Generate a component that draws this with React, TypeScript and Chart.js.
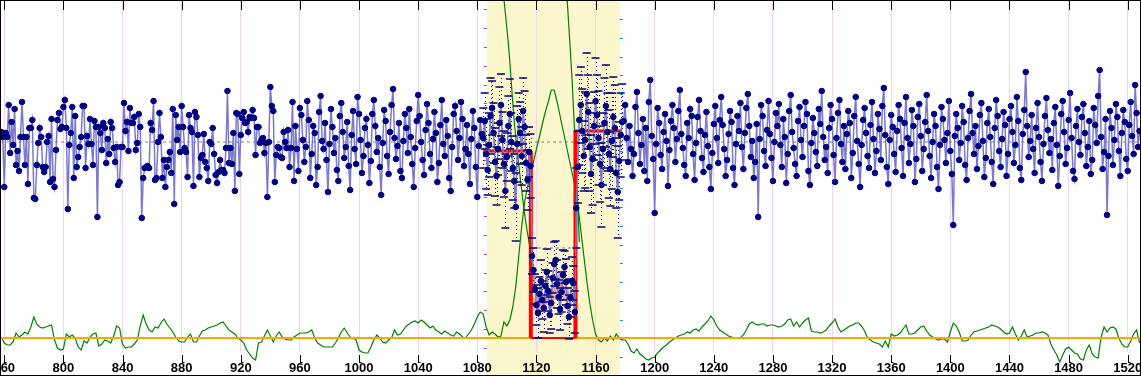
import React, { useEffect, useRef } from "react";
import { Chart, registerables } from "chart.js";
Chart.register(...registerables);

// ---------- data ----------
const X_START = 758; // first observation index
const X_MIN = 757.8;
const X_MAX = 1528.3;
const X_TICKS = [760, 800, 840, 880, 920, 960, 1000, 1040, 1080, 1120, 1160, 1200, 1240, 1280, 1320, 1360, 1400, 1440, 1480, 1520];

// observations 758..1528
const mainValues = [
  220,215,165,219,215,247,199,230,207,243,
  187,201,181,215,250,215,187,215,168,224,
  224,232,154,153,187,209,224,215,185,180,
  185,210,216,170,233,173,165,202,232,239,
  223,225,245,252,224,143,207,219,245,174,
  236,185,195,205,215,246,246,184,216,208,
  233,208,187,231,225,135,225,219,202,229,
  224,189,213,198,230,224,204,190,205,167,
  170,205,205,249,221,230,201,244,229,229,
  235,202,209,238,225,134,174,184,185,186,
  184,229,222,251,172,174,210,239,215,174,
  192,165,185,192,200,179,243,148,237,212,
  225,200,246,225,204,200,175,237,224,220,
  166,240,235,217,175,194,197,218,190,184,
  171,210,208,224,198,177,169,180,192,182,
  182,179,204,261,189,204,188,219,161,239,
  238,178,217,234,240,229,230,220,235,234,
  242,234,197,225,225,209,212,214,199,209,
  155,210,265,246,241,170,197,205,204,195,
  194,220,210,204,222,185,204,250,171,
  226,203,181,244,237,212,190,205,251,232,
  174,198,226,219,167,185,240,256,211,203,
  229,192,160,208,243,225,199,214,182,171,
  236,249,220,194,205,230,186,162,217,241,
  203,188,255,238,212,179,196,224,233,207,
  169,191,238,252,226,200,214,185,157,209,
  242,231,196,178,220,247,263,214,193,206,
  229,181,174,211,238,224,199,243,215,188,
  165,204,231,257,236,210,192,177,222,248,
  229,198,184,213,240,219,170,189,227,252,
  208,196,232,216,174,161,205,238,246,221,
  192,214,250,233,186,203,227,198,168,213,
  241,224,185,155,206,232,218,
  // window: 1084..1178
  214,231,198,182,207,236,244,219,190,176,
  203,229,247,212,188,161,195,226,238,210,
  184,171,145,208,233,219,196,241,225,189,
  172,200,186,
  96,82,63,47,39,58,71,52,44,66,
  80,61,37,49,74,88,92,68,55,43,
  60,77,85,70,46,35,54,71,69,40,
  144,185,232,247,221,196,212,258,240,205,
  178,193,226,251,237,214,188,167,203,229,
  246,220,198,183,211,235,224,179,160,191,
  217,230,
  // 1179..1528
  231,247,214,190,226,203,176,198,245,260,
  219,188,207,233,181,224,171,250,272,216,
  193,139,208,244,229,197,183,220,238,211,
  166,202,231,247,224,190,213,241,262,218,
  204,187,176,229,214,243,236,198,172,209,
  235,252,221,194,180,217,240,206,185,163,
  199,228,246,214,189,232,255,227,203,176,
  192,218,241,230,184,167,208,236,221,249,
  205,183,219,244,258,226,195,211,174,190,
  228,135,213,247,236,201,186,222,251,218,
  194,171,210,239,226,248,207,185,233,215,
  169,198,241,257,220,204,188,176,231,245,
  212,195,226,250,238,181,167,209,234,219,
  200,186,243,228,261,215,192,205,179,224,
  247,233,197,170,214,239,252,208,190,226,
  183,218,241,229,174,199,236,255,211,188,
  165,207,232,244,219,196,184,227,250,213,
  179,201,238,223,192,246,264,217,185,168,
  212,237,225,198,180,221,247,233,204,176,
  229,255,214,189,208,242,226,170,193,235,
  248,216,181,203,230,257,221,196,174,210,
  238,226,185,163,207,245,233,212,189,219,
  251,201,178,127,216,238,224,192,209,246,
  230,187,172,214,241,258,219,198,226,183,
  206,237,249,211,175,194,229,243,215,190,
  168,224,252,236,201,185,213,240,227,176,
  198,233,246,220,189,207,255,231,184,172,
  218,242,280,226,195,211,237,203,179,224,
  249,215,190,171,208,236,254,222,199,213,
  182,229,245,207,166,196,238,251,220,188,
  204,232,259,214,181,173,226,243,210,197,
  235,248,219,186,205,231,178,192,244,227,
  209,256,282,215,183,200,233,137,196,241,
  224,187,212,248,235,201,176,219,242,230,
  193,181,227,250,216,198,267,239,205,221,
];

// analysis window
const WINDOW_RANGE = [1086.5, 1176.5];
const REGION_START = 1084;
// error half-widths for observations 1084..1178
const regionErr = [
  30,28,35,25,32,38,27,30,34,29,26,36,31,28,33,37,24,30,35,29,32,27,34,38,26,31,29,33,36,28,30,25,32,
  18,22,15,20,25,17,21,19,24,16,23,20,18,26,15,22,19,24,17,21,20,25,16,23,18,22,19,24,17,21,
  40,36,45,38,42,35,48,41,37,44,39,46,34,43,40,47,38,42,36,45,41,39,44,37,48,40,43,35,46,39,42,38,
];

// green statistic, every 2nd index from 758
const GREEN_START = 758;
const GREEN_STEP = 2;
const greenValues = [
  15,9,7,7,10,19,15,17,20,18,
  25,35,28,25,24,25,26,27,12,4,
  2,3,18,15,17,14,5,2,11,9,
  15,18,19,6,8,12,11,9,16,26,
  24,8,4,5,5,8,12,26,37,28,
  22,20,25,24,29,33,28,24,20,15,
  11,10,10,15,18,10,10,16,21,22,
  24,25,26,27,29,30,26,22,20,18,
  14,12,9,2,-2,-6,-8,9,10,16,
  22,16,10,16,20,15,13,12,12,15,
  17,19,19,19,20,22,14,9,7,5,
  5,5,5,9,14,20,24,19,15,14,
  12,2,0,-1,-1,5,12,17,14,10,
  9,12,14,22,17,18,22,26,28,30,
  31,29,32,30,27,24,26,22,20,18,
  21,19,17,16,20,18,15,14,18,22,
  28,35,40,38,25,17,20,18,15,16,
  30,26,32,45,65,95,125,150,165,178,
  190,203,215,228,240,250,262,262,250,236,
  222,208,194,180,166,148,122,97,72,50,
  32,18,12,10,14,11,16,12,18,14,
  12,12,8,1,-1,3,-2,-4,-7,-8,
  -6,-5,-1,2,5,7,10,12,14,16,
  17,18,20,19,22,23,21,25,28,31,
  36,32,26,22,20,18,16,15,14,14,
  14,17,22,28,30,28,27,28,28,26,
  27,27,26,25,26,28,32,33,26,30,
  25,29,32,34,21,20,20,19,20,22,
  26,29,33,25,20,22,24,26,27,29,
  29,26,21,14,12,10,9,8,5,11,
  5,18,16,17,19,23,27,18,18,19,
  22,25,26,21,17,15,13,12,13,13,
  10,20,29,26,20,11,11,12,17,20,
  21,22,23,24,25,27,26,25,23,20,
  18,19,25,18,12,16,22,15,16,17,
  19,19,20,19,17,8,2,-3,-10,-3,
  3,5,2,-1,-2,-7,-8,2,7,-2,
  -5,-6,15,25,20,24,25,23,14,8,
  5,5,11,18,22,9,
];

// bounding curves
const boundAX = [1097.4, 1098.1, 1101.5, 1104.9, 1108.6, 1112.3, 1116.4];
const boundAY = [362, 352, 300, 232, 180, 135, 97];
const boundBX = [1140.3, 1140.8, 1144.2, 1147.5, 1149.0];
const boundBY = [362, 352, 270, 165, 110];

// segment means (step line)
const stepX = [1084, 1116.2, 1116.2, 1146.4, 1146.4, 1177.8];
const stepY = [201, 201, 14, 14, 221, 221];

// boxes in the low segment
const boxX = [1120, 1122, 1124, 1126, 1128, 1130, 1132, 1134, 1136, 1138, 1140, 1142];
const boxLow = [42, 45, 40, 47, 50, 44, 52, 60, 64, 58, 52, 48];
const boxHigh = [54, 56, 52, 58, 60, 56, 66, 76, 79, 70, 65, 60];

const BASE_LEVEL = 14;
const OVERALL_MEAN = 210;
const LOW_MEAN = 104;
const LOW_MEAN_RANGE = [1117, 1147];

const SIDE_TICKS_LEFT = [342.7, 323.9, 305.1, 286.3, 267.5, 248.7, 229.9, 211.1, 192.3, 173.5, 154.7, 135.9, 117.1, 98.3, 79.5, 60.7, 41.9, 23.1, 4.3];
const SIDE_TICKS_RIGHT = [333, 314.2, 295.4, 276.6, 257.8, 239, 220.2, 201.4, 182.6, 163.8, 145, 126.2, 107.4, 88.6, 69.8, 51, 32.2, 13.4, -5.4];

const decor = {
  id: "decor",
  beforeDraw(chart: any) {
    const { ctx, scales } = chart;
    const x = scales.x;
    const a = x.getPixelForValue(WINDOW_RANGE[0]);
    const b = x.getPixelForValue(WINDOW_RANGE[1]);
    ctx.save();
    ctx.fillStyle = "#fcf6cc";
    ctx.fillRect(a, 0, b - a, chart.height);
    ctx.restore();
  },
  beforeDatasetsDraw(chart: any) {
    const { ctx, scales } = chart;
    const x = scales.x, y = scales.y;
    const a = x.getPixelForValue(WINDOW_RANGE[0]);
    const b = x.getPixelForValue(WINDOW_RANGE[1]);
    ctx.save();
    ctx.lineWidth = 1;
    ctx.strokeStyle = "#9a48d0";
    SIDE_TICKS_LEFT.forEach((v) => {
      const py = Math.round(y.getPixelForValue(v)) + 0.5;
      ctx.beginPath(); ctx.moveTo(a - 3, py); ctx.lineTo(a, py); ctx.stroke();
    });
    ctx.strokeStyle = "#1a9a9a";
    SIDE_TICKS_RIGHT.forEach((v) => {
      const py = Math.round(y.getPixelForValue(v)) + 0.5;
      ctx.beginPath(); ctx.moveTo(b, py); ctx.lineTo(b + 3, py); ctx.stroke();
    });
    // dotted error lines
    ctx.strokeStyle = "#000080";
    ctx.setLineDash([1, 3]);
    regionErr.forEach((e, i) => {
      const xi = REGION_START + i;
      const v = mainValues[xi - X_START];
      const px = Math.round(x.getPixelForValue(xi)) + 0.5;
      ctx.beginPath();
      ctx.moveTo(px, y.getPixelForValue(v + e));
      ctx.lineTo(px, y.getPixelForValue(v - e));
      ctx.stroke();
    });
    ctx.restore();
  },
  afterDraw(chart: any) {
    const { ctx, scales, chartArea } = chart;
    const x = scales.x;
    ctx.save();
    ctx.strokeStyle = "#000";
    ctx.lineWidth = 1;
    X_TICKS.forEach((t) => {
      const px = Math.round(x.getPixelForValue(t)) + 0.5;
      ctx.beginPath(); ctx.moveTo(px, 0); ctx.lineTo(px, 10); ctx.stroke();
      ctx.beginPath(); ctx.moveTo(px, chartArea.bottom + 3); ctx.lineTo(px, chartArea.bottom + 11); ctx.stroke();
      ctx.beginPath(); ctx.moveTo(px, chartArea.bottom + 10.5); ctx.lineTo(px + 2, chartArea.bottom + 10.5); ctx.stroke();
    });
    ctx.strokeRect(0.5, 0.5, chart.width - 1, chart.height - 1);
    ctx.restore();
  },
};

export default function App() {
  const ref = useRef<HTMLCanvasElement | null>(null);
  useEffect(() => {
    document.body.style.margin = "0";
    const canvas = ref.current;
    if (!canvas) return;

    const mainData = mainValues.map((v, i) => ({ x: X_START + i, y: v }));
    const capsUp = regionErr.map((e, i) => ({ x: REGION_START + i, y: mainValues[REGION_START + i - X_START] + e }));
    const capsDn = regionErr.map((e, i) => ({ x: REGION_START + i, y: mainValues[REGION_START + i - X_START] - e }));
    const greenData = greenValues.map((v, i) => ({ x: GREEN_START + i * GREEN_STEP, y: v }));
    const boundA = boundAX.map((xv, i) => ({ x: xv, y: boundAY[i] }));
    const boundB = boundBX.map((xv, i) => ({ x: xv, y: boundBY[i] }));
    const stepData = stepX.map((xv, i) => ({ x: xv, y: stepY[i] }));
    const boxes = boxX.map((xv, i) => ({ x: xv, y: [boxLow[i], boxHigh[i]] }));

    const chart = new Chart(canvas, {
      type: "line",
      data: {
        datasets: [
          { type: "bar", data: boxes as any, backgroundColor: "rgba(230,150,130,0.6)", barThickness: 6, order: 10 } as any,
          { data: [{ x: X_MIN, y: OVERALL_MEAN }, { x: X_MAX, y: OVERALL_MEAN }], borderColor: "#808080", borderWidth: 1, borderDash: [3, 3], pointRadius: 0, order: 9 },
          { data: [{ x: LOW_MEAN_RANGE[0], y: LOW_MEAN }, { x: LOW_MEAN_RANGE[1], y: LOW_MEAN }], borderColor: "#808080", borderWidth: 1, borderDash: [3, 3], pointRadius: 0, order: 9 },
          { data: boundA, borderColor: "#008000", borderWidth: 1.2, pointRadius: 0, tension: 0.3, order: 8 },
          { data: boundB, borderColor: "#008000", borderWidth: 1.2, pointRadius: 0, tension: 0.3, order: 8 },
          { data: greenData, borderColor: "#008000", borderWidth: 1.2, pointRadius: 0, clip: false, order: 7 } as any,
          { data: [{ x: X_MIN, y: BASE_LEVEL }, { x: X_MAX, y: BASE_LEVEL }], borderColor: "#ffa500", borderWidth: 2, pointRadius: 0, order: 6 },
          {
            data: stepData, borderColor: "#ff0000", borderWidth: 3, pointRadius: 0, order: 5,
            segment: { borderWidth: (c: any) => (c.p0DataIndex === 1 || c.p0DataIndex === 3 ? 4 : c.p0DataIndex === 2 ? 2 : 3) },
          } as any,
          { data: mainData, borderColor: "rgb(122,122,204)", borderWidth: 1.5, pointRadius: 2.8, pointBackgroundColor: "#000080", pointBorderColor: "#000080", pointBorderWidth: 1, order: 4 },
          { data: capsUp, showLine: false, pointStyle: "line", pointRadius: 4, pointBorderColor: "#000080", pointBorderWidth: 1.5, order: 3 } as any,
          { data: capsDn, showLine: false, pointStyle: "line", pointRadius: 4, pointBorderColor: "#000080", pointBorderWidth: 1.5, order: 3 } as any,
        ],
      },
      options: {
        responsive: false,
        animation: false,
        events: [],
        layout: { padding: { top: 1, left: 1, right: 1, bottom: 1 }, autoPadding: false },
        plugins: { legend: { display: false }, tooltip: { enabled: false } },
        scales: {
          x: {
            type: "linear",
            min: X_MIN,
            max: X_MAX,
            offset: false,
            grid: { color: "#f0d4f0", lineWidth: 1, drawTicks: false, offset: false },
            border: { display: false },
            afterBuildTicks: (s: any) => { s.ticks = X_TICKS.map((v) => ({ value: v })); },
            afterFit: (s: any) => { s.height = 23; s.paddingLeft = 0; s.paddingRight = 0; },
            ticks: {
              autoSkip: false,
              maxRotation: 0,
              padding: 9,
              color: "#000",
              callback: (v: any) => String(v),
              font: { family: "'Liberation Sans Narrow','Arial Narrow','Liberation Sans',Arial,sans-serif", size: 13, weight: "bold" },
            },
          },
          y: { type: "linear", display: false, min: 0, max: 351 },
        },
      },
      plugins: [decor],
    });
    return () => chart.destroy();
  }, []);

  return <canvas ref={ref} width={1141} height={376} style={{ display: "block" }} />;
}
